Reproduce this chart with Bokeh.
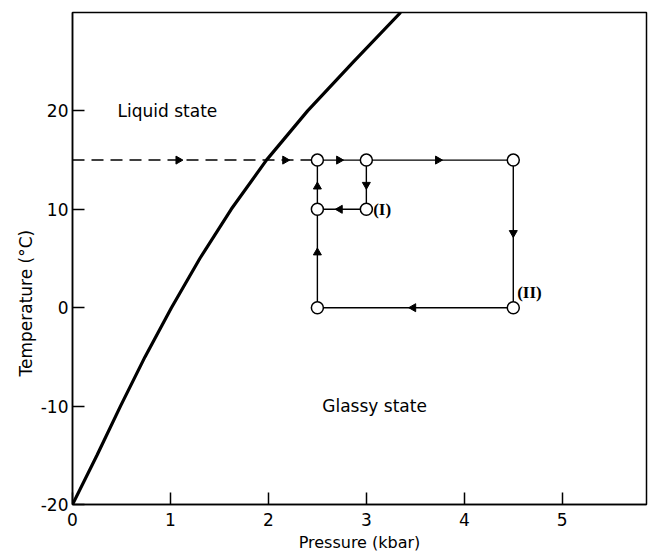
import math
from bokeh.plotting import figure
from bokeh.models import Range1d, Label, FixedTicker, ColumnDataSource, Title
from bokeh.embed import file_html
from bokeh.resources import INLINE

# ---- data ----
curve_T = [-20, -15, -10, -5, 0, 5, 10, 15, 20, 25, 30]
curve_P = [0.0, 0.25, 0.49, 0.74, 1.01, 1.30, 1.62, 1.98, 2.40, 2.87, 3.35]

dash_P = [0.0, 2.5]
dash_T = [15, 15]

state_P = [2.5, 3.0, 4.5, 2.5, 3.0, 2.5, 4.5]
state_T = [15, 15, 15, 10, 10, 0, 0]

path_x0 = [2.5, 3.0, 4.5, 4.5, 2.5, 2.5, 3.0, 3.0]
path_y0 = [15, 15, 15, 0, 0, 10, 15, 10]
path_x1 = [3.0, 4.5, 4.5, 2.5, 2.5, 2.5, 3.0, 2.5]
path_y1 = [15, 15, 0, 0, 10, 15, 10, 10]

arrow_P = [1.08, 2.17, 2.72, 3.73, 4.5, 3.48, 2.5, 2.5, 3.0, 2.73]
arrow_T = [15, 15, 15, 15, 7.6, 0, 5.6, 12.3, 12.5, 10]
arrow_dir = ["r", "r", "r", "r", "d", "l", "u", "u", "d", "l"]

x_ticks = [0, 1, 2, 3, 4, 5]
y_ticks = [-20, -10, 0, 10, 20]

FONT = "DejaVu Sans"

p = figure(width=648, height=554, x_range=Range1d(0, 5.86), y_range=Range1d(-20, 30),
           output_backend="svg", toolbar_location=None,
           min_border_left=72, min_border_right=2, min_border_top=12, min_border_bottom=50)
p.background_fill_color = "white"
p.border_fill_color = "white"
p.outline_line_color = "black"
p.outline_line_width = 1.5
p.xgrid.visible = False
p.ygrid.visible = False

for ax in (p.xaxis[0], p.yaxis[0]):
    ax.axis_line_width = 1.5
    ax.major_tick_in = 12
    ax.major_tick_out = 0
    ax.major_tick_line_width = 1.5
    ax.minor_tick_line_color = None
    ax.major_label_text_font = FONT
    ax.major_label_text_font_size = "17px"
    ax.major_label_text_color = "black"

p.xaxis.ticker = FixedTicker(ticks=x_ticks)
p.yaxis.ticker = FixedTicker(ticks=y_ticks)
p.yaxis.major_label_overrides = {t: str(t) for t in y_ticks}
p.xaxis.major_label_standoff = 8
p.yaxis.major_label_standoff = 4
p.xaxis.axis_label = "Pressure (kbar)"
p.xaxis.axis_label_text_font = FONT
p.xaxis.axis_label_text_font_size = "16px"
p.xaxis.axis_label_text_font_style = "normal"
p.xaxis.axis_label_text_color = "black"
p.xaxis.axis_label_standoff = 4

# y-axis title (placed slightly below the frame centre, as in the original)
p.add_layout(Title(text="Temperature (°C)", align="left", offset=128,
                   text_font=FONT, text_font_size="17px", text_font_style="normal",
                   text_color="black", standoff=4), "left")

# curve
p.line(curve_P, curve_T, line_color="black", line_width=3.2)

# dashed approach line
p.line(dash_P, dash_T, line_color="black", line_width=1.5, line_dash="12 7")

# loop path
p.segment(x0=path_x0, y0=path_y0, x1=path_x1, y1=path_y1, line_color="black", line_width=1.4)

# arrowheads
ang = {"r": -math.pi / 2, "l": math.pi / 2, "u": 0.0, "d": math.pi}
src = ColumnDataSource(dict(x=arrow_P, y=arrow_T, a=[ang[d] for d in arrow_dir]))
p.scatter("x", "y", source=src, marker="triangle", size=8, angle="a",
          fill_color="black", line_color="black")

# states
p.scatter(state_P, state_T, marker="circle", size=12, fill_color="white",
          line_color="black", line_width=1.5)

# texts
def lab(x, y, t, font=FONT, size="17px", style="normal"):
    p.add_layout(Label(x=x, y=y, text=t, text_font=font, text_font_size=size,
                       text_font_style=style, text_color="black",
                       text_baseline="middle", text_align="left"))

lab(0.46, 20, "Liquid state")
lab(2.55, -10, "Glassy state")
lab(3.07, 10, "(I)", font="Liberation Serif", size="17px", style="bold")
lab(4.54, 1.5, "(II)", font="Liberation Serif", size="17px", style="bold")

open("out.html", "w").write(file_html(p, INLINE))
